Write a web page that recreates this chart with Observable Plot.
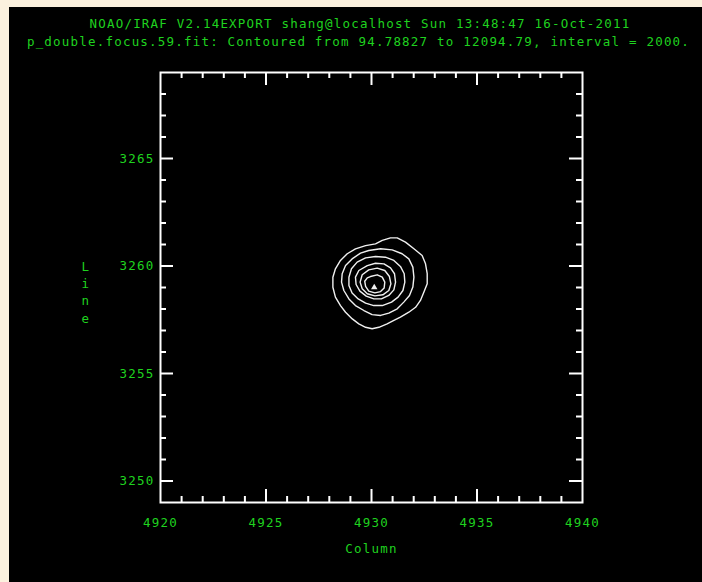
<!DOCTYPE html>
<html>
<head>
<meta charset="utf-8">
<script src="https://cdn.jsdelivr.net/npm/d3@7"></script>
<script src="https://cdn.jsdelivr.net/npm/@observablehq/plot@0.6"></script>
<style>
  html, body { margin: 0; padding: 0; width: 702px; height: 582px; overflow: hidden; background: #fbf1de; }
  #panel { position: absolute; left: 9px; top: 7px; width: 693px; height: 575px; background: #000; }
  .title { position: absolute; left: 0; width: 693px; text-align: center; color: #1fd21f;
           font: 12.5px/13px "DejaVu Sans Mono", monospace; letter-spacing: 1.2px; white-space: pre; }
  #chart { position: absolute; left: 0; top: 50px; }
  #chart svg text { letter-spacing: 1.2px; }
</style>
</head>
<body>
<div id="panel">
  <div class="title" id="t1" style="top:9.5px;padding-left:4.5px"></div>
  <div class="title" id="t2" style="top:28px;padding-left:3px"></div>
  <div id="chart"></div>
</div>
<script>
// Header lines
const titleLine1 = "NOAO/IRAF V2.14EXPORT shang@localhost Sun 13:48:47 16-Oct-2011";
const titleLine2 = "p_double.focus.59.fit: Contoured from 94.78827 to 12094.79, interval = 2000.";

// Axis domains and ticks
const xDomain = [4920, 4940];
const yDomain = [3249, 3269];
const xMajor = [4920, 4925, 4930, 4935, 4940];
const xMinor = [4921, 4922, 4923, 4924, 4926, 4927, 4928, 4929, 4931, 4932, 4933, 4934, 4936, 4937, 4938, 4939];
const yMajor = [3250, 3255, 3260, 3265];
const yMinor = [3251, 3252, 3253, 3254, 3256, 3257, 3258, 3259, 3261, 3262, 3263, 3264, 3266, 3267, 3268];
const xLabel = "Column";
const yLabel = "Line";

// Contour levels (from 94.78827 by 2000)
const levels = [94.78827, 2094.79, 4094.79, 6094.79, 8094.79, 10094.79];
const peakLevel = 12094.79;

// Contour rings, [column, line] pairs
const ring0 = [
  [4930.90, 3261.31], [4931.22, 3261.31], [4931.61, 3261.11], [4932.01, 3260.80], [4932.40, 3260.49],
  [4932.56, 3260.10], [4932.64, 3259.64], [4932.64, 3259.17], [4932.48, 3258.78], [4932.32, 3258.40],
  [4932.09, 3258.08], [4931.77, 3257.85], [4931.37, 3257.62], [4931.06, 3257.47], [4930.74, 3257.31],
  [4930.35, 3257.15], [4930.03, 3257.08], [4929.72, 3257.15], [4929.40, 3257.31], [4929.09, 3257.54],
  [4928.77, 3257.85], [4928.53, 3258.16], [4928.29, 3258.55], [4928.17, 3259.01], [4928.17, 3259.48],
  [4928.29, 3259.87], [4928.53, 3260.26], [4928.85, 3260.57], [4929.24, 3260.80], [4929.72, 3260.95],
  [4930.19, 3261.03], [4930.51, 3261.19]
];
const ring1 = [
  [4929.87, 3260.72], [4930.43, 3260.80], [4930.98, 3260.75], [4931.45, 3260.57], [4931.77, 3260.33],
  [4931.96, 3259.95], [4932.01, 3259.48], [4931.96, 3259.02], [4931.80, 3258.63], [4931.53, 3258.32],
  [4931.22, 3258.01], [4930.82, 3257.81], [4930.43, 3257.70], [4930.03, 3257.74], [4929.64, 3257.93],
  [4929.24, 3258.16], [4928.93, 3258.47], [4928.69, 3258.86], [4928.58, 3259.25], [4928.61, 3259.64],
  [4928.77, 3260.02], [4929.08, 3260.33], [4929.48, 3260.60]
];
const ring2 = [
  [4929.72, 3260.38], [4930.19, 3260.44], [4930.66, 3260.41], [4931.06, 3260.26], [4931.37, 3259.98],
  [4931.55, 3259.64], [4931.58, 3259.25], [4931.49, 3258.86], [4931.26, 3258.55], [4930.95, 3258.32],
  [4930.51, 3258.16], [4930.11, 3258.16], [4929.72, 3258.27], [4929.37, 3258.47], [4929.08, 3258.74],
  [4928.93, 3259.09], [4928.93, 3259.48], [4929.05, 3259.87], [4929.32, 3260.18]
];
const ring3 = [
  [4929.80, 3260.02], [4930.19, 3260.13], [4930.59, 3260.10], [4930.90, 3259.91], [4931.09, 3259.64],
  [4931.14, 3259.25], [4931.06, 3258.89], [4930.82, 3258.63], [4930.47, 3258.47], [4930.11, 3258.47],
  [4929.75, 3258.60], [4929.45, 3258.83], [4929.27, 3259.14], [4929.24, 3259.48], [4929.40, 3259.79]
];
const ring4 = [
  [4929.87, 3259.82], [4930.27, 3259.90], [4930.63, 3259.79], [4930.85, 3259.51], [4930.92, 3259.17],
  [4930.82, 3258.86], [4930.54, 3258.66], [4930.16, 3258.61], [4929.80, 3258.71], [4929.56, 3258.94],
  [4929.46, 3259.25], [4929.56, 3259.59]
];
const ring5 = [
  [4929.95, 3259.51], [4930.27, 3259.59], [4930.51, 3259.48], [4930.63, 3259.25], [4930.60, 3258.98],
  [4930.43, 3258.81], [4930.16, 3258.75], [4929.87, 3258.83], [4929.72, 3259.05], [4929.68, 3259.29],
  [4929.80, 3259.45]
];
const peak = [4930.13, 3259.00];

document.getElementById("t1").textContent = titleLine1;
document.getElementById("t2").textContent = titleLine2;

const rings = [ring0, ring1, ring2, ring3, ring4, ring5];
const contourRows = rings.flatMap((ring, i) => ring.map(([x, y]) => ({x, y, level: levels[i]})));

const W = 693, H = 525;
const M = {top: 15, right: 120, bottom: 80, left: 151};
const frameW = W - M.left - M.right;
const frameH = H - M.top - M.bottom;
const majorLen = 13, minorLen = 6;
const green = "#1fd21f";
const ink = "#ffffff";
const fontSize = 12.5;

// Inward ticks on all four sides of the frame
function ticksX(values, len) {
  return [
    Plot.ruleX(values, {x: d => d, stroke: ink, strokeWidth: 2, insetTop: frameH - len}),
    Plot.ruleX(values, {x: d => d, stroke: ink, strokeWidth: 2, insetBottom: frameH - len})
  ];
}
function ticksY(values, len) {
  return [
    Plot.ruleY(values, {y: d => d, stroke: ink, strokeWidth: 2, insetRight: frameW - len}),
    Plot.ruleY(values, {y: d => d, stroke: ink, strokeWidth: 2, insetLeft: frameW - len})
  ];
}

const chart = Plot.plot({
  width: W,
  height: H,
  marginTop: M.top,
  marginRight: M.right,
  marginBottom: M.bottom,
  marginLeft: M.left,
  style: {background: "#000", fontFamily: "'DejaVu Sans Mono', monospace", fontSize: fontSize + "px", overflow: "visible"},
  x: {domain: xDomain, axis: null},
  y: {domain: yDomain, axis: null},
  marks: [
    Plot.line(contourRows, {x: "x", y: "y", z: "level", stroke: "#f0f0f0", strokeWidth: 1.4, curve: "linear-closed"}),
    Plot.dot([peak], {x: d => d[0], y: d => d[1], symbol: "triangle", r: 2.4, fill: "#f0f0f0", stroke: null}),
    ...ticksX(xMajor.slice(1, -1), majorLen),
    ...ticksX(xMinor, minorLen),
    ...ticksY(yMajor, majorLen),
    ...ticksY(yMinor, minorLen),
    Plot.frame({stroke: ink, strokeWidth: 2}),
    Plot.text(xMajor, {x: d => d, text: d => String(d), frameAnchor: "bottom", dy: 20, fill: green, fontSize, lineAnchor: "middle"}),
    Plot.text(yMajor, {y: d => d, text: d => String(d), frameAnchor: "left", dx: -6, textAnchor: "end", fill: green, fontSize, lineAnchor: "middle"}),
    Plot.text([xLabel], {text: d => d, frameAnchor: "bottom", dy: 46, fill: green, fontSize, lineAnchor: "middle"}),
    Plot.text([yLabel], {text: d => d.split("").join("\n"), frameAnchor: "left", dx: -79, dy: 3.5, lineHeight: 1.385, fill: green, fontSize, lineAnchor: "middle"})
  ]
});
document.getElementById("chart").appendChild(chart);
</script>
</body>
</html>
